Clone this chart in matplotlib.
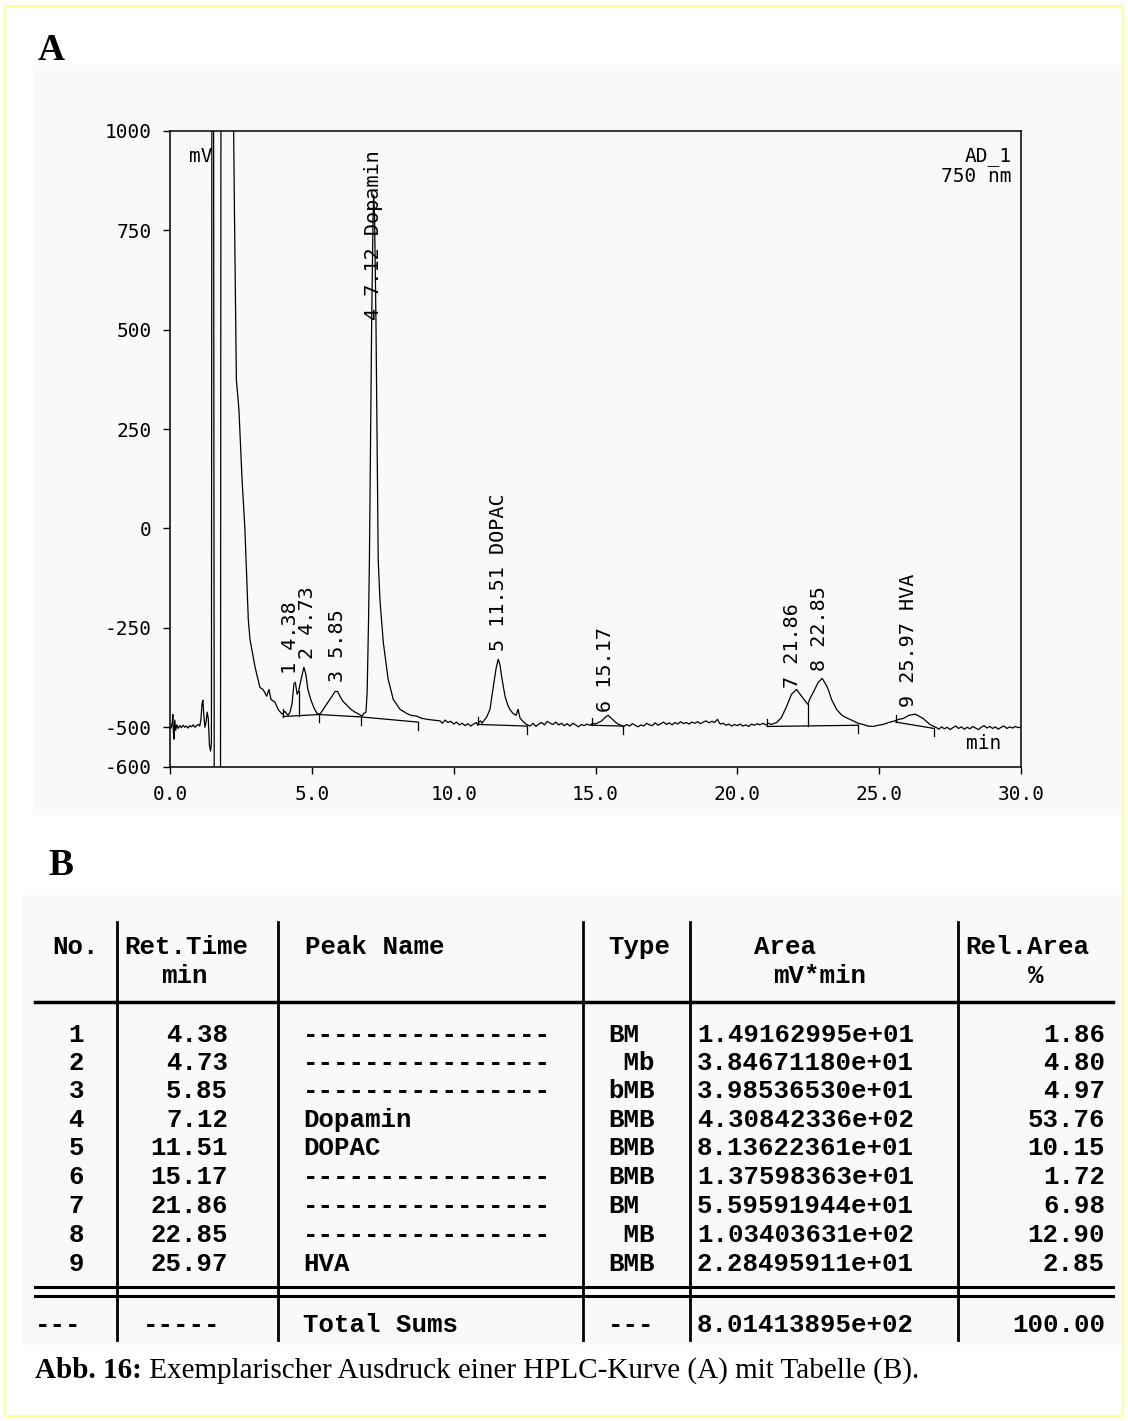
import numpy as np
import matplotlib.pyplot as plt
from matplotlib.patches import Rectangle

plt.rcParams['axes.unicode_minus'] = False

# chromatogram trace (retention time in min, signal in mV)
time_min = [
    0.00, 0.04, 0.08, 0.10, 0.12, 0.14, 0.17, 0.20, 0.24, 0.29, 0.34, 0.40, 0.46, 0.52, 0.58,
    0.64, 0.70, 0.76, 0.82, 0.88, 0.94, 1.00, 1.05, 1.09, 1.13, 1.16, 1.19, 1.23, 1.27, 1.31,
    1.35, 1.39, 1.43, 1.46, 1.48, 1.53, 1.56, 1.78, 1.80, 2.20, 2.23, 2.27, 2.34, 2.40, 2.43,
    2.54, 2.64, 2.76, 2.82, 3.00, 3.17, 3.28, 3.41, 3.49, 3.56, 3.70, 3.81, 3.95, 4.05, 4.16,
    4.23, 4.30, 4.37, 4.42, 4.48, 4.53, 4.62, 4.72, 4.79, 4.86, 4.97, 5.08, 5.18, 5.29, 5.43,
    5.57, 5.71, 5.82, 5.91, 5.99, 6.10, 6.24, 6.38, 6.52, 6.66, 6.77, 6.84, 6.91, 6.95, 7.00,
    7.03, 7.07, 7.11, 7.16, 7.18, 7.21, 7.26, 7.30, 7.34, 7.40, 7.52, 7.69, 7.87, 8.11, 8.34,
    8.49, 8.70, 8.85, 9.05, 9.27, 9.52, 9.60, 9.70, 9.80, 9.90, 10.00, 10.10, 10.20, 10.30, 10.40,
    10.50, 10.60, 10.70, 10.80, 10.85, 10.90, 10.95, 11.00, 11.10, 11.16, 11.28, 11.40, 11.49, 11.57, 11.63,
    11.69, 11.81, 11.91, 11.98, 12.09, 12.20, 12.27, 12.34, 12.44, 12.57, 12.70, 12.80, 12.90, 13.00, 13.10,
    13.20, 13.30, 13.40, 13.50, 13.60, 13.70, 13.80, 13.90, 14.00, 14.10, 14.20, 14.30, 14.40, 14.50, 14.60,
    14.70, 14.80, 14.90, 15.00, 15.10, 15.20, 15.30, 15.40, 15.45, 15.50, 15.60, 15.70, 15.80, 15.90, 16.00,
    16.10, 16.20, 16.30, 16.40, 16.50, 16.60, 16.70, 16.80, 16.90, 17.00, 17.10, 17.20, 17.30, 17.40, 17.50,
    17.60, 17.70, 17.80, 17.90, 18.00, 18.10, 18.20, 18.30, 18.40, 18.50, 18.60, 18.70, 18.80, 18.90, 19.00,
    19.10, 19.20, 19.30, 19.35, 19.40, 19.50, 19.60, 19.70, 19.80, 19.90, 20.00, 20.10, 20.20, 20.30, 20.40,
    20.50, 20.60, 20.70, 20.80, 20.90, 21.00, 21.10, 21.20, 21.39, 21.56, 21.74, 21.91, 22.09, 22.21, 22.35,
    22.48, 22.58, 22.68, 22.85, 22.99, 23.15, 23.23, 23.32, 23.50, 23.62, 23.73, 23.90, 24.09, 24.25, 24.44,
    24.60, 24.79, 24.96, 25.14, 25.34, 25.55, 25.70, 25.85, 26.05, 26.26, 26.40, 26.55, 26.68, 26.79, 27.02,
    27.10, 27.20, 27.30, 27.40, 27.50, 27.60, 27.70, 27.80, 27.90, 28.00, 28.10, 28.20, 28.30, 28.40, 28.50,
    28.60, 28.70, 28.80, 28.90, 29.00, 29.10, 29.20, 29.30, 29.40, 29.50, 29.60, 29.70, 29.80, 29.90, 30.00,
]
signal_mv = [
    -498, -502, -488, -468, -512, -530, -482, -508, -494, -503, -496, -501, -495, -500, -497,
    -502, -496, -499, -494, -500, -496, -493, -497, -480, -440, -432, -468, -500, -488, -462,
    -478, -545, -560, -540, 1500, 1500, -700, -700, 1500, 1500, 1100, 809, 374, 324, 299,
    123, 0, -229, -279, -349, -400, -405, -422, -405, -430, -437, -455, -467, -460, -470,
    -462, -442, -390, -387, -417, -410, -380, -349, -367, -405, -432, -452, -465, -467, -452,
    -437, -422, -410, -410, -422, -435, -445, -455, -462, -467, -472, -465, -462, -412, -229,
    -78, 224, 525, 789, 839, 789, 525, 224, -78, -178, -287, -379, -430, -455, -465,
    -470, -472, -477, -480, -482, -484, -490, -482, -488, -485, -492, -487, -494, -490, -496,
    -491, -497, -492, -488, -495, -486, -484, -490, -480, -475, -455, -397, -354, -329, -342,
    -372, -422, -445, -455, -465, -470, -455, -477, -485, -493, -497, -490, -498, -492, -488,
    -494, -485, -490, -493, -487, -494, -490, -496, -491, -497, -490, -494, -499, -493, -496,
    -492, -495, -490, -492, -488, -485, -478, -472, -470, -474, -480, -487, -492, -495, -498,
    -493, -497, -491, -495, -499, -494, -497, -490, -494, -496, -489, -495, -491, -487, -493,
    -489, -494, -488, -492, -486, -491, -488, -492, -487, -490, -486, -491, -487, -484, -489,
    -485, -488, -480, -487, -492, -490, -495, -492, -497, -493, -496, -492, -497, -494, -498,
    -492, -495, -491, -494, -490, -494, -490, -493, -488, -475, -447, -417, -405, -417, -430,
    -442, -425, -412, -387, -377, -396, -410, -430, -455, -465, -472, -478, -484, -490, -493,
    -497, -498, -495, -493, -488, -484, -480, -478, -470, -467, -472, -478, -486, -493, -501,
    -505, -499, -504, -500, -506, -501, -497, -503, -499, -505, -500, -504, -498, -502, -506,
    -500, -496, -502, -498, -503, -499, -505, -500, -497, -503, -499, -502, -498, -501, -500,
]

# integration baselines drawn by the integrator (min, mV)
base_t = [[3.99, 5.25, 6.73, 8.73], [10.87, 12.59], [14.86, 15.96], [21.05, 24.26], [25.59, 26.93]]
base_mv = [[-473, -468, -474, -487], [-493, -497], [-495, -497], [-498, -495], [-487, -503]]
drop_t = [4.53, 22.48]
drop_lo = [-471, -497]
drop_hi = [-410, -442]

# peak annotations
peak_no = ['1', '2', '3', '4', '5', '6', '7', '8', '9']
peak_rt = ['4.38', '4.73', '5.85', '7.12', '11.51', '15.17', '21.86', '22.85', '25.97']
peak_name = ['', '', '', 'Dopamin', 'DOPAC', '', '', '', 'HVA']
label_t = [4.25, 4.84, 5.90, 7.16, 11.57, 15.37, 21.95, 22.91, 26.02]
label_mv = [-367, -329, -387, 525, -309, -462, -400, -359, -450]

x_ticks = [0, 5, 10, 15, 20, 25, 30]
y_ticks = [1000, 750, 500, 250, 0, -250, -500, -600]

# table B
col_no = ['1', '2', '3', '4', '5', '6', '7', '8', '9']
col_ret = ['4.38', '4.73', '5.85', '7.12', '11.51', '15.17', '21.86', '22.85', '25.97']
col_name = ['----------------', '----------------', '----------------', 'Dopamin', 'DOPAC',
            '----------------', '----------------', '----------------', 'HVA']
col_type = ['BM', ' Mb', 'bMB', 'BMB', 'BMB', 'BMB', 'BM', ' MB', 'BMB']
col_area = ['1.49162995e+01', '3.84671180e+01', '3.98536530e+01', '4.30842336e+02',
            '8.13622361e+01', '1.37598363e+01', '5.59591944e+01', '1.03403631e+02',
            '2.28495911e+01']
col_rel = ['1.86', '4.80', '4.97', '53.76', '10.15', '1.72', '6.98', '12.90', '2.85']
total_row = ['---', '-----', 'Total Sums', '---', '8.01413895e+02', '100.00']

W, H = 1128, 1421
fig = plt.figure(figsize=(W / 100, H / 100), dpi=100)
fig.patch.set_facecolor('white')

# page overlay in pixel units
fax = fig.add_axes([0, 0, 1, 1])
fax.set_xlim(0, W)
fax.set_ylim(H, 0)
fax.axis('off')
fax.add_patch(Rectangle((33, 65), 1095, 750, fc='#f9f9f9', ec='none'))
fax.add_patch(Rectangle((22, 895), 1106, 450, fc='#f9f9f9', ec='none'))
fax.add_patch(Rectangle((5, 6), 1118, 1410, fc='none', ec='#ffff80', lw=1.2))

serif = 'Liberation Serif'
fax.text(38, 60, 'A', fontsize=27, fontweight='bold', family=serif, va='baseline')
fax.text(48, 875, 'B', fontsize=27, fontweight='bold', family=serif, va='baseline')

# chromatogram
mono = 'DejaVu Sans Mono'
ax = fig.add_axes([170 / W, 1 - 767 / H, 851 / W, 636 / H])
ax.set_facecolor('none')
ax.plot(time_min, signal_mv, color='black', lw=0.9)
for bt, bm in zip(base_t, base_mv):
    ax.plot(bt, bm, color='black', lw=0.9)
    ax.plot([bt[0], bt[0]], [bm[0], bm[0] + 18], color='black', lw=0.9)
    for t, m in zip(bt[1:], bm[1:]):
        ax.plot([t, t], [m, m - 20], color='black', lw=0.9)
for t, lo, hi in zip(drop_t, drop_lo, drop_hi):
    ax.plot([t, t], [lo, hi], color='black', lw=0.9)

for no, rt, name, lt, lm in zip(peak_no, peak_rt, peak_name, label_t, label_mv):
    s = f'{no} {rt}' + (f' {name}' if name else '')
    ax.text(lt, lm, s, rotation=90, ha='center', va='bottom', fontsize=14.5, family=mono)

ax.set_xlim(0, 30)
ax.set_ylim(-600, 1000)
ax.set_xticks(x_ticks)
ax.set_xticklabels([f'{v:.1f}' for v in x_ticks])
ax.set_yticks(y_ticks)
ax.set_yticklabels([str(v) for v in y_ticks])
ax.tick_params(direction='out', length=5, width=1, labelsize=14, pad=8)
for lab in ax.get_xticklabels() + ax.get_yticklabels():
    lab.set_family(mono)
for sp in ax.spines.values():
    sp.set_linewidth(1.1)

ax.text(0.022, 0.975, 'mV', transform=ax.transAxes, fontsize=14, family=mono, va='top')
ax.text(0.989, 0.975, 'AD_1\n750 nm', transform=ax.transAxes, fontsize=14, family=mono,
        va='top', ha='right', linespacing=1.1)
ax.text(0.935, 0.022, 'min', transform=ax.transAxes, fontsize=14, family=mono, va='bottom')

# table
tfont = dict(family='Liberation Mono', fontweight='bold', fontsize=18.5, va='center')
for x in [117, 278, 583, 690, 958]:
    fax.plot([x, x], [922, 1340], color='black', lw=2)
fax.plot([35, 1113], [1002, 1002], color='black', lw=2.5)
fax.plot([35, 1113], [1287, 1287], color='black', lw=2.2)
fax.plot([35, 1113], [1296, 1296], color='black', lw=2.2)

fax.text(52, 947, 'No.', **tfont)
fax.text(124, 947, 'Ret.Time', **tfont)
fax.text(184, 976, 'min', ha='center', **tfont)
fax.text(305, 947, 'Peak Name', **tfont)
fax.text(608, 947, 'Type', **tfont)
fax.text(785, 947, 'Area', ha='center', **tfont)
fax.text(820, 976, 'mV*min', ha='center', **tfont)
fax.text(965, 947, 'Rel.Area', **tfont)
fax.text(1036, 976, '%', ha='center', **tfont)

row_y = [1035, 1063, 1091, 1120, 1148, 1177, 1206, 1235, 1264]
for y, a, b, c, d, e, f in zip(row_y, col_no, col_ret, col_name, col_type, col_area, col_rel):
    fax.text(84, y, a, ha='right', **tfont)
    fax.text(228, y, b, ha='right', **tfont)
    fax.text(303, y, c, **tfont)
    fax.text(608, y, d, **tfont)
    fax.text(697, y, e, **tfont)
    fax.text(1105, y, f, ha='right', **tfont)

fax.text(35, 1325, total_row[0], **tfont)
fax.text(143, 1325, total_row[1], **tfont)
fax.text(303, 1325, total_row[2], **tfont)
fax.text(608, 1325, total_row[3], **tfont)
fax.text(697, 1325, total_row[4], **tfont)
fax.text(1105, 1325, total_row[5], ha='right', **tfont)

# caption
cap = fax.text(35, 1378, 'Abb. 16:', fontsize=21, fontweight='bold', family=serif, va='baseline')
fax.annotate(' Exemplarischer Ausdruck einer HPLC-Kurve (A) mit Tabelle (B).', xy=(1, 0),
             xycoords=cap, va='bottom', fontsize=21, family=serif)

fig.savefig('out.png', dpi=100)
